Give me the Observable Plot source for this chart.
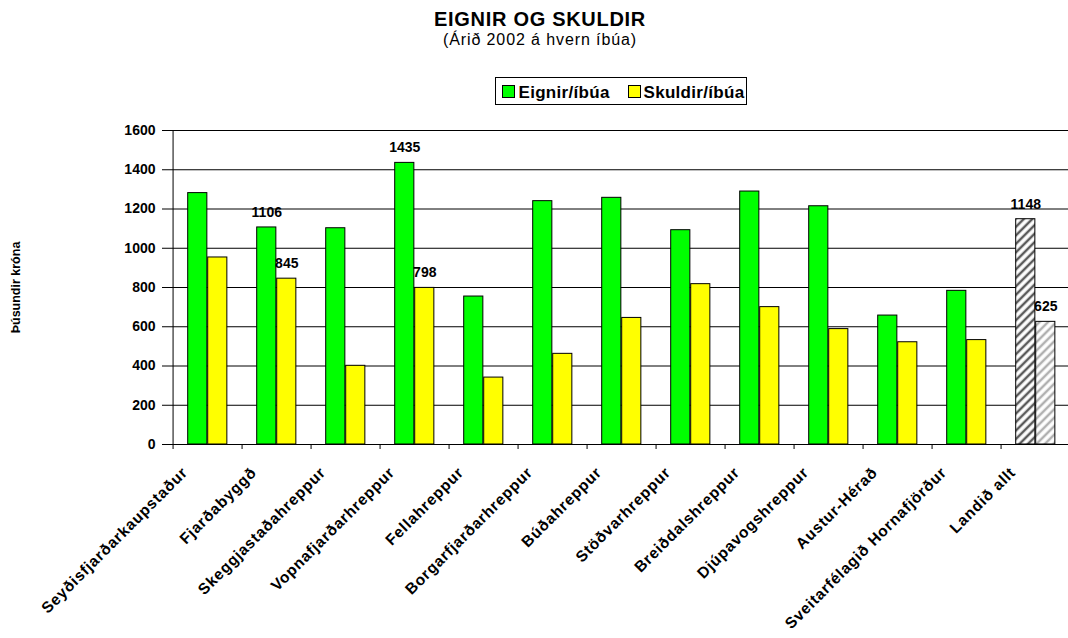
<!DOCTYPE html>
<html><head><meta charset="utf-8">
<script src="https://cdn.jsdelivr.net/npm/d3@7"></script>
<script src="https://cdn.jsdelivr.net/npm/@observablehq/plot@0.6"></script>
<style>
html,body{margin:0;padding:0;background:#fff;overflow:hidden;}
#wrap{position:relative;width:1068px;height:638px;font-family:"Liberation Sans",Arial,sans-serif;color:#000;}
#header{position:relative;height:110px;}
#title{position:absolute;left:0;width:1080px;top:8.8px;text-align:center;font-weight:bold;font-size:20px;line-height:20px;letter-spacing:0.7px;}
#subtitle{position:absolute;left:0;width:1080px;top:31.5px;text-align:center;font-size:16px;line-height:16px;letter-spacing:0.9px;}
#legend{position:absolute;left:495px;top:77px;width:252px;height:28px;border:1px solid #000;box-sizing:border-box;}
.sw{position:absolute;width:13px;height:13px;border:1px solid #000;box-sizing:border-box;top:85px;}
.lt{position:absolute;top:83.6px;font-size:17px;line-height:17px;font-weight:bold;letter-spacing:0.3px;white-space:nowrap;}
</style>
</head><body>
<div id="wrap">
  <div id="header">
    <div id="title"></div>
    <div id="subtitle"></div>
    <div id="legend"></div>
    <div class="sw" id="sw0" style="left:502px;"></div>
    <div class="lt" id="lt0" style="left:518.5px;"></div>
    <div class="sw" id="sw1" style="left:627.5px;"></div>
    <div class="lt" id="lt1" style="left:643.5px;"></div>
  </div>
  <div id="chart"></div>
</div>
<script>
const titleText = "EIGNIR OG SKULDIR";
const subtitleText = "(Árið 2002 á hvern íbúa)";
const yLabel = "Þúsundir króna";
const seriesNames = ["Eignir/íbúa", "Skuldir/íbúa"];
const seriesColors = ["#00ff00", "#ffff00"];
const hatchFills = ["url(#hatchDark)", "url(#hatchLight)"];

const categories = ["Seyðisfjarðarkaupstaður", "Fjarðabyggð", "Skeggjastaðahreppur", "Vopnafjarðarhreppur",
  "Fellahreppur", "Borgarfjarðarhreppur", "Búðahreppur", "Stöðvarhreppur", "Breiðdalshreppur",
  "Djúpavogshreppur", "Austur-Hérað", "Sveitarfélagið Hornafjörður", "Landið allt"];
const eignir = [1281, 1106, 1102, 1435, 754, 1240, 1257, 1092, 1289, 1214, 657, 783, 1148];
const skuldir = [953, 845, 401, 798, 341, 462, 645, 817, 700, 588, 521, 532, 625];
const yTicks = [0, 200, 400, 600, 800, 1000, 1200, 1400, 1600];
const labelled = ["Fjarðabyggð", "Vopnafjarðarhreppur", "Landið allt"];
const hatched = ["Landið allt"];

document.getElementById("title").textContent = titleText;
document.getElementById("subtitle").textContent = subtitleText;
document.getElementById("lt0").textContent = seriesNames[0];
document.getElementById("lt1").textContent = seriesNames[1];
document.getElementById("sw0").style.background = seriesColors[0];
document.getElementById("sw1").style.background = seriesColors[1];

const xRange = [167.3, 1075.3];
const bw = (xRange[1] - xRange[0]) / categories.length;
const barW = 20, off = 14.7;
const rows = (vals) => categories.map((c, i) => ({category: c, value: vals[i]}));
const series = [rows(eignir), rows(skuldir)];

const barMarks = series.map((data, s) => Plot.barY(data, {
  x: "category", y: "value",
  fill: d => hatched.includes(d.category) ? hatchFills[s] : seriesColors[s],
  stroke: "#000", strokeWidth: 1,
  insetLeft: off + s * barW,
  insetRight: bw - off - (s + 1) * barW
}));
const labelMarks = series.map((data, s) => Plot.text(data.filter(d => labelled.includes(d.category)), {
  x: "category", y: "value", text: d => String(d.value),
  dx: off + s * barW + barW / 2 - bw / 2, dy: -15, fontSize: 14
}));

const plot = Plot.plot({
  width: 1068, height: 528,
  marginTop: 20, marginBottom: 194, marginLeft: 167, marginRight: 0,
  style: {fontFamily: '"Liberation Sans", Arial, sans-serif', fontWeight: "bold", background: "#fff", color: "#000", overflow: "hidden"},
  x: {type: "band", domain: categories, range: xRange, padding: 0, axis: null},
  y: {domain: [0, yTicks[yTicks.length - 1]]},
  marks: [
    Plot.gridY({ticks: yTicks, stroke: "#000", strokeOpacity: 1}),
    ...barMarks,
    ...labelMarks,
    Plot.ruleY([0], {stroke: "#000"}),
    Plot.ruleX(categories.slice(0, 1), {x: d => d, dx: -bw / 2, y1: 0, y2: yTicks[yTicks.length - 1], stroke: "#000"}),
    Plot.ruleX(categories, {x: d => d, dx: -bw / 2, y1: 0, y2: 0, insetBottom: -5, stroke: "#000"}),
    Plot.axisY({ticks: yTicks, tickFormat: d => String(d), tickSize: 5, tickPadding: 7, fontSize: 14, label: yLabel, labelAnchor: "center", labelOffset: 156, labelArrow: "none"}),
    Plot.text(categories, {x: d => d, frameAnchor: "bottom", dx: -23, dy: 25.5, rotate: -45, textAnchor: "end", lineAnchor: "middle", fontSize: 15.5})
  ]
});

const defs = d3.select(plot).insert("defs", ":first-child");
[["hatchDark", "#5a5a5a"], ["hatchLight", "#b0b0b0"]].forEach(([id, col]) => {
  const p = defs.append("pattern").attr("id", id).attr("patternUnits", "userSpaceOnUse")
    .attr("width", 6).attr("height", 6).attr("patternTransform", "rotate(45)");
  p.append("rect").attr("width", 6).attr("height", 6).attr("fill", "#fff");
  p.append("line").attr("x1", 3).attr("y1", 0).attr("x2", 3).attr("y2", 6).attr("stroke", col).attr("stroke-width", 2.5);
});
d3.select(plot).selectAll("text").filter(function () {
  return (this.getAttribute("transform") || "").includes("rotate(-45)");
}).style("letter-spacing", "0.75px");
d3.select(plot).select('g[aria-label="y-axis label"] text').style("font-size", "12.5px");
document.getElementById("chart").appendChild(plot);
</script>
</body></html>
